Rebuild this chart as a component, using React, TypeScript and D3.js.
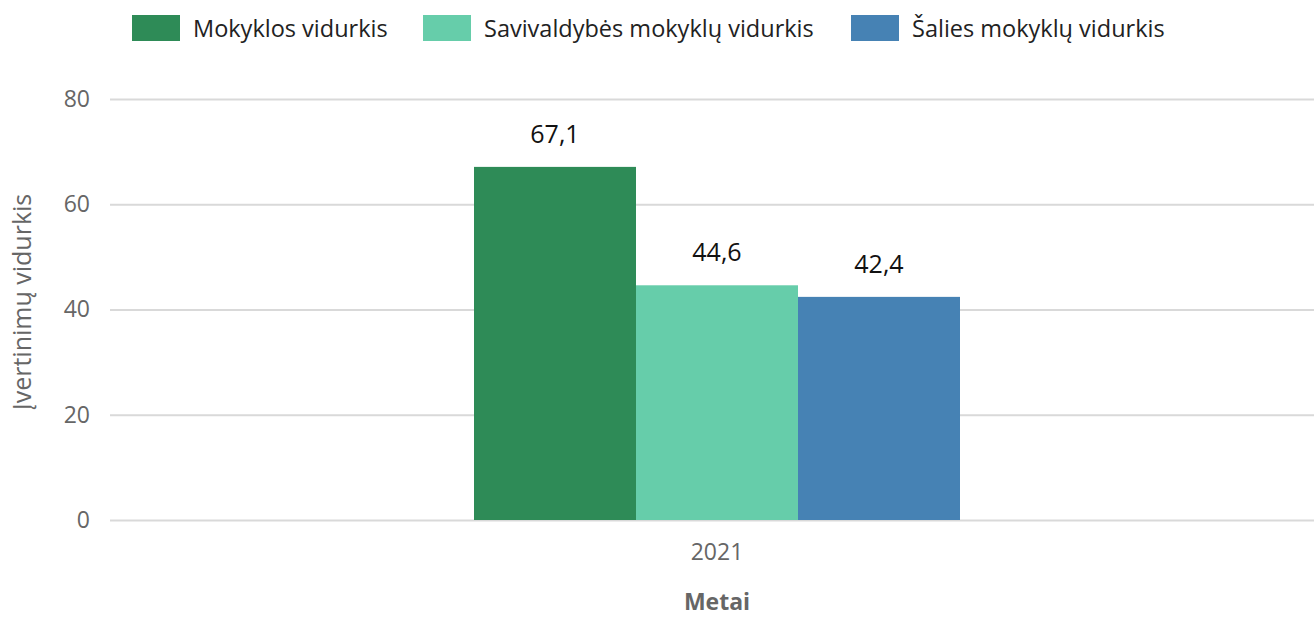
import React, { useEffect, useRef } from 'react';
import * as d3 from 'd3';

const years = ['2021'];
const seriesNames = ['Mokyklos vidurkis', 'Savivaldybės mokyklų vidurkis', 'Šalies mokyklų vidurkis'];
const seriesColors = ['#2e8b57', '#66cdaa', '#4682b4'];
const mokyklos = [67.1];
const savivaldybes = [44.6];
const salies = [42.4];
const yTicks = [0, 20, 40, 60, 80];

const App: React.FC = () => {
  const ref = useRef<SVGSVGElement | null>(null);

  useEffect(() => {
    if (!ref.current) return;
    const svg = d3.select(ref.current);
    svg.selectAll('*').remove();

    const width = 1314;
    const height = 618;
    const margin = { left: 110, right: -10, top: 99, bottom: 98 };
    const font = '"Open Sans", sans-serif';

    const x0 = d3.scaleBand<string>()
      .domain(years)
      .range([margin.left, width - margin.right])
      .paddingInner(0)
      .paddingOuter(0.749);

    const x1 = d3.scaleBand<string>()
      .domain(seriesNames)
      .range([0, x0.bandwidth()]);

    const y = d3.scaleLinear()
      .domain([0, 80])
      .range([height - margin.bottom, margin.top]);

    // tinklelis ir y reikšmės
    const yAxis = d3.axisLeft(y)
      .tickValues(yTicks)
      .tickSize(-(width - margin.right - margin.left))
      .tickPadding(20)
      .tickFormat((d) => String(d));

    const gy = svg.append('g')
      .attr('transform', `translate(${margin.left},0)`)
      .call(yAxis);
    gy.select('.domain').remove();
    gy.selectAll('.tick line').attr('stroke', '#d9d9d9').attr('stroke-width', 2);
    gy.selectAll('.tick text')
      .attr('fill', '#666')
      .style('font-family', font)
      .style('font-size', '23px');

    // stulpeliai
    const values = [mokyklos, savivaldybes, salies];
    const rows = years.flatMap((yr, i) =>
      seriesNames.map((name, s) => ({ yr, name, s, v: values[s][i] })));

    svg.append('g')
      .selectAll('rect')
      .data(rows)
      .enter()
      .append('rect')
      .attr('x', (d) => x0(d.yr)! + x1(d.name)!)
      .attr('y', (d) => y(d.v))
      .attr('width', x1.bandwidth())
      .attr('height', (d) => y(0) - y(d.v))
      .attr('fill', (d) => seriesColors[d.s]);

    svg.append('g')
      .selectAll('text')
      .data(rows)
      .enter()
      .append('text')
      .attr('x', (d) => x0(d.yr)! + x1(d.name)! + x1.bandwidth() / 2)
      .attr('y', (d) => y(d.v) - 24)
      .attr('text-anchor', 'middle')
      .attr('fill', '#111')
      .style('font-family', font)
      .style('font-size', '25px')
      .text((d) => d.v.toFixed(1).replace('.', ','));

    // x ašis
    const xAxis = d3.axisBottom(x0).tickSize(0).tickPadding(24);
    const gx = svg.append('g')
      .attr('transform', `translate(0,${y(0)})`)
      .call(xAxis);
    gx.select('.domain').remove();
    gx.selectAll('.tick text')
      .attr('fill', '#666')
      .style('font-family', font)
      .style('font-size', '23px');

    svg.append('text')
      .attr('x', x0(years[0])! + x0.bandwidth() / 2)
      .attr('y', 610)
      .attr('text-anchor', 'middle')
      .attr('fill', '#666')
      .style('font-family', font)
      .style('font-size', '23px')
      .style('font-weight', 'bold')
      .text('Metai');

    svg.append('text')
      .attr('transform', `translate(31,302) rotate(-90)`)
      .attr('text-anchor', 'middle')
      .attr('fill', '#666')
      .style('font-family', font)
      .style('font-size', '25px')
      .text('Įvertinimų vidurkis');

    // legenda
    const legendX = [132, 423, 851];
    const lg = svg.append('g')
      .selectAll('g')
      .data(seriesNames)
      .enter()
      .append('g')
      .attr('transform', (_, i) => `translate(${legendX[i]},15)`);
    lg.append('rect')
      .attr('width', 48)
      .attr('height', 26)
      .attr('fill', (_, i) => seriesColors[i]);
    lg.append('text')
      .attr('x', 61)
      .attr('y', 22)
      .attr('fill', '#222')
      .style('font-family', font)
      .style('font-size', '23.5px')
      .text((d) => d);
  }, []);

  return (
    <div style={{ position: 'absolute', left: 0, top: 0 }}>
      <svg ref={ref} width={1314} height={618} style={{ display: 'block' }} />
    </div>
  );
};

export default App;
